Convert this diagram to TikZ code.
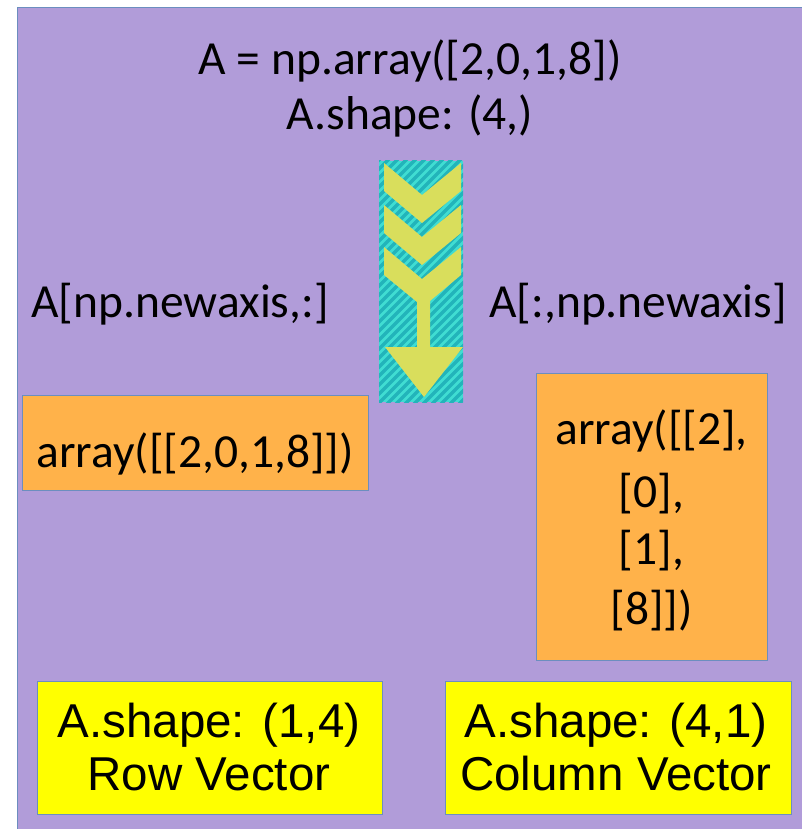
\documentclass[tikz,border=0pt]{standalone}
\usepackage{fontspec}
\setmainfont{Carlito}
\newfontfamily\arialfont{Liberation Sans}
\definecolor{bgpurple}{HTML}{B19CD9}
\definecolor{edgeblue}{HTML}{6C8EBF}
\definecolor{boxorange}{HTML}{FFB24A}
\definecolor{boxyellow}{HTML}{FFFF00}
\definecolor{cyanlight}{HTML}{40DDD2}
\definecolor{cyandark}{HTML}{22B4BA}
\definecolor{chevyellow}{HTML}{D9DE5C}
\tikzset{
  px/.style={x=1pt,y=-1pt},
  bigtext/.style={font=\fontsize{47.5}{55}\selectfont, inner sep=0pt, anchor=base},
  arialtext/.style={font=\arialfont\fontsize{47.5}{53}\selectfont, inner sep=0pt, anchor=base},
  orangebox/.style={draw=edgeblue, line width=0.8pt, fill=boxorange, rectangle},
  yellowbox/.style={draw=edgeblue, line width=0.8pt, fill=boxyellow, rectangle},
  chevfill/.style={fill=chevyellow, draw=none}
}
\begin{document}
\begin{tikzpicture}[px]
\useasboundingbox (0,0) rectangle (802,829);
\fill[white] (0,0) rectangle (802,829);
\filldraw[fill=bgpurple, draw=edgeblue, line width=1pt] (17,8) rectangle (803,830);

% top texts
\node[bigtext] (decl) at (410,75) {A = np.array([2,0,1,8])};
\node[bigtext] (shp) at (410,130) {A.shape: (4,)};

% central striped arrow
\begin{scope}
  \clip (379,161) rectangle (463,402);
  \fill[cyanlight] (379,161) rectangle (463,402);
  \foreach \i in {120,129,...,480} {
    \draw[cyandark, line width=3.2pt] (\i,410) -- (\i+255,155);
  }
\end{scope}
\node[inner sep=0pt, minimum width=84pt, minimum height=241pt] (arrowbox) at (421,281.5) {};
\fill[chevfill] (384,163) -- (422,195) -- (461,163) -- (461,191) -- (422,223) -- (384,191) -- cycle;
\fill[chevfill] (384,205) -- (422,237) -- (461,205) -- (461,233) -- (422,265) -- (384,233) -- cycle;
\fill[chevfill] (384,247) -- (422,279) -- (461,247) -- (461,275) -- (430,301) -- (430,347)
  -- (463,347) -- (424,397) -- (385,347) -- (417,347) -- (417,302) -- (384,275) -- cycle;

% side labels
\node[bigtext] (lrow) at (180,317) {A[np.newaxis,:]};
\node[bigtext] (lcol) at (638,317) {A[:,np.newaxis]};

% orange boxes
\node[orangebox, minimum width=346pt, minimum height=95pt, inner sep=0pt] (orow) at (195,442.5) {};
\node[bigtext] (orowtext) at (195,467) {array([[2,0,1,8]])};

\node[orangebox, minimum width=231pt, minimum height=287pt, inner sep=0pt] (ocol) at (651.5,516.5) {};
\node[bigtext] (oc1) at (651.5,444) {array([[2],};
\node[bigtext] (oc2) at (651.5,507) {[0],};
\node[bigtext] (oc3) at (651.5,564) {[1],};
\node[bigtext] (oc4) at (651.5,624) {[8]])};

% yellow boxes
\node[yellowbox, minimum width=345pt, minimum height=133pt, inner sep=0pt] (yrow) at (209.5,747.5) {};
\node[arialtext] (yr1) at (209,737) {A.shape: (1,4)};
\node[arialtext] (yr2) at (209,790) {Row Vector};

\node[yellowbox, minimum width=346pt, minimum height=133pt, inner sep=0pt] (ycol) at (618,747.5) {};
\node[arialtext] (yc1) at (616,737) {A.shape: (4,1)};
\node[arialtext] (yc2) at (616,790) {Column Vector};
\end{tikzpicture}
\end{document}
